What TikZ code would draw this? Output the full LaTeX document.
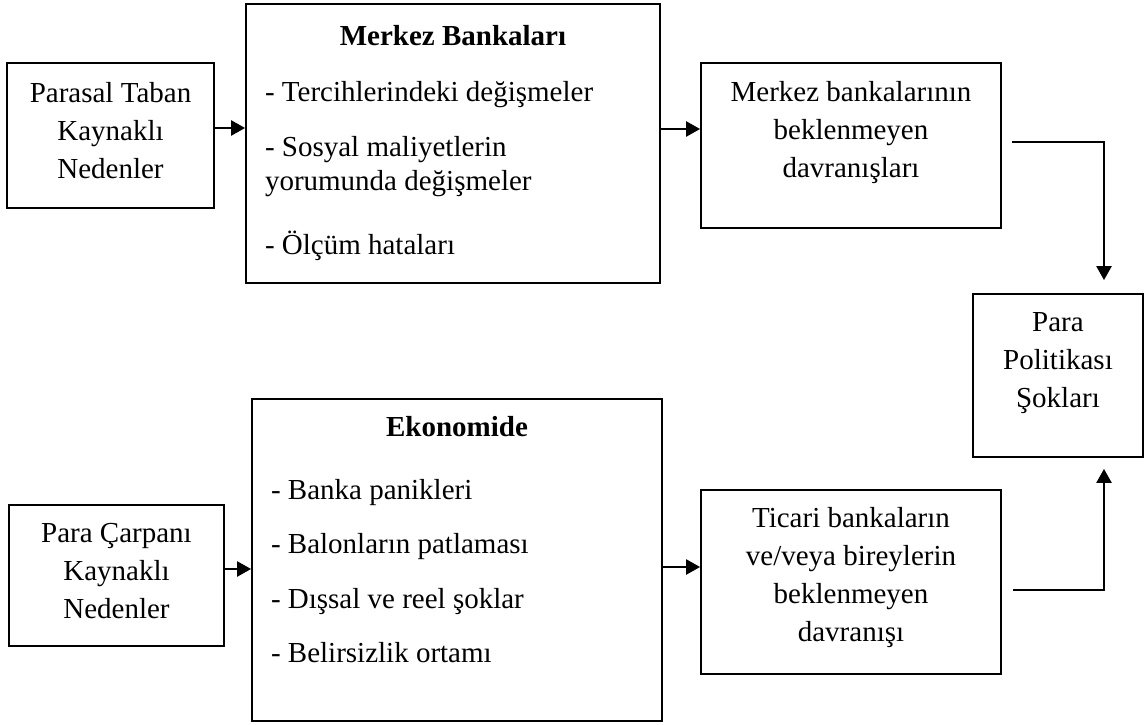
\documentclass[tikz,border=0pt]{standalone}
\usepackage{fontspec}
\setmainfont{Liberation Serif}
\usetikzlibrary{positioning,calc}
\usetikzlibrary{arrows.meta}
\tikzset{
	box/.style={draw,line width=1.8pt,rectangle,anchor=center,align=center,inner sep=0pt,font=\fontsize{29}{38}\selectfont},
	listbox/.style={draw,line width=1.8pt,rectangle,anchor=center,align=flush left,inner xsep=19pt,inner ysep=0pt,font=\fontsize{29}{33.5}\selectfont},
	line/.style={
		draw,line width=2.4pt,-{Triangle[length=14pt,width=15pt]},
	},
}

\begin{document}
\begin{tikzpicture}[x=1pt,y=-1pt]
	\useasboundingbox (0,0) rectangle (1146,725);

	% Upper row
	\node[box,minimum width=207pt,minimum height=145pt] (parasal) at (110.5,135.5) {Parasal Taban\\Kaynaklı\\Nedenler\rule[-10pt]{0pt}{0pt}};
	\node[listbox,text width=376pt,minimum height=279pt] (merkez) at (453,143.5) {{\centering\textbf{Merkez Bankaları}\par}\vspace{22pt}
		- Tercihlerindeki değişmeler\par\vspace{22pt}
		- Sosyal maliyetlerin\\yorumunda değişmeler\par\vspace{31pt}
		- Ölçüm hataları};
	\node[box,minimum width=300pt,minimum height=165pt] (mbdavranis) at (851,145.5) {Merkez bankalarının\\beklenmeyen\\davranışları\rule[-32pt]{0pt}{0pt}};

	% Result
	\node[box,minimum width=170pt,minimum height=163pt] (sok) at (1058,375.5) {Para\\Politikası\\Şokları\rule[-30pt]{0pt}{0pt}};

	% Lower row
	\node[box,minimum width=215pt,minimum height=141pt] (carpan) at (116.5,575.5) {Para Çarpanı\\Kaynaklı\\Nedenler\rule[-9pt]{0pt}{0pt}};
	\node[listbox,text width=372pt,minimum height=322pt] (ekonomi) at (457,560) {{\centering\textbf{Ekonomide}\par}\vspace{29.5pt}
		- Banka panikleri\par\vspace{21pt}
		- Balonların patlaması\par\vspace{21pt}
		- Dışsal ve reel şoklar\par\vspace{21pt}
		- Belirsizlik ortamı\rule[-41pt]{0pt}{0pt}};
	\node[box,minimum width=300pt,minimum height=184pt] (ticari) at (851,582) {Ticari bankaların\\ve/veya bireylerin\\beklenmeyen\\davranışı\rule[-16pt]{0pt}{0pt}};

	% Draw connections
	\draw[line] ([yshift=7.5pt]parasal.east) -- ([yshift=15.5pt]merkez.west);
	\draw[line] ([yshift=14.5pt]merkez.east) -- ([yshift=16.5pt]mbdavranis.west);
	\draw[line,shorten <=10pt,shorten >=13pt] ([yshift=3.5pt]mbdavranis.east) -| ([xshift=46pt]sok.north);
	\draw[line] ([yshift=6.5pt]carpan.east) -- ([yshift=-9pt]ekonomi.west);
	\draw[line] ([yshift=-7pt]ekonomi.east) -- ([yshift=15pt]ticari.west);
	\draw[line,shorten <=11pt,shorten >=11pt] ([yshift=-8pt]ticari.east) -| ([xshift=46pt]sok.south);

\end{tikzpicture}
\end{document}
